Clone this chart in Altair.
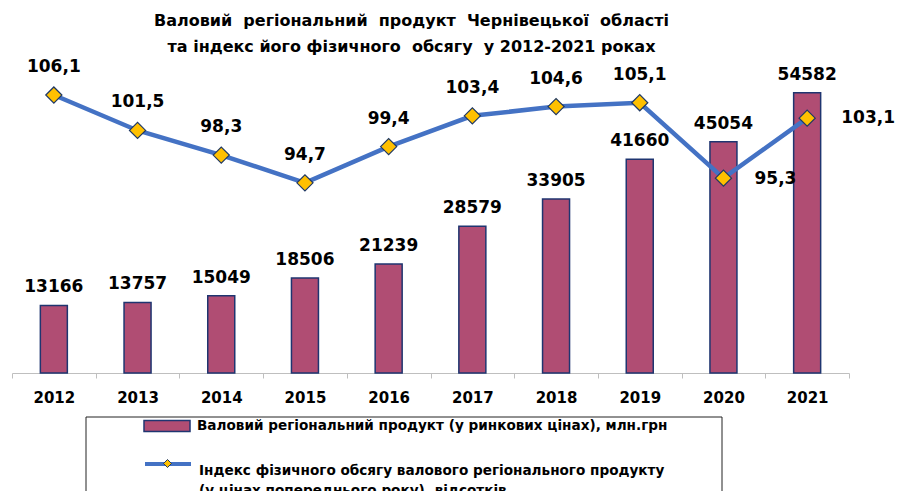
import altair as alt
import pandas as pd

years = ["2012", "2013", "2014", "2015", "2016", "2017", "2018", "2019", "2020", "2021"]
grp = [13166, 13757, 15049, 18506, 21239, 28579, 33905, 41660, 45054, 54582]
index_vals = [106.1, 101.5, 98.3, 94.7, 99.4, 103.4, 104.6, 105.1, 95.3, 103.1]

bar_name = "Валовий регіональний продукт (у ринкових цінах), млн.грн"
line_name_1 = "Індекс фізичного обсягу валового регіонального продукту"
line_name_2 = "(у цінах попереднього року), відсотків"
title_lines = [
    "Валовий\u00a0 регіональний\u00a0 продукт\u00a0 Чернівецької\u00a0 області",
    "та індекс його фізичного\u00a0 обсягу\u00a0 у 2012-2021 роках",
]

FONT = "DejaVu Sans"
BAR_FILL = "#B04D73"
BAR_STROKE = "#1F3570"
LINE_COLOR = "#4472C4"
DIAMOND_FILL = "#FFC000"
DIAMOND_STROKE = "#1F3864"

df = pd.DataFrame({"year": years, "grp": grp, "idx": index_vals})
df["grp_label"] = df["grp"].astype(str)
df["idx_label"] = df["idx"].map(lambda v: f"{v:.1f}".replace(".", ","))
df["bar_series"] = bar_name
df["line_series"] = line_name_1

x = alt.X(
    "year:N",
    title=None,
    scale=alt.Scale(paddingInner=0, paddingOuter=0),
    axis=alt.Axis(
        labelAngle=0,
        tickBand="extent",
        domainColor="#BFBFBF",
        tickColor="#BFBFBF",
        tickSize=5,
        labelFont=FONT,
        labelFontSize=15,
        labelFontWeight="bold",
        labelColor="black",
        labelPadding=12,
    ),
)
y_bar = alt.Y("grp:Q", scale=alt.Scale(domain=[0, 60000], nice=False, zero=True), axis=None)
y_line = alt.Y("idx:Q", scale=alt.Scale(domain=[70, 110], nice=False, zero=False), axis=None)

base = alt.Chart(df)

bars = base.mark_bar(size=27, stroke=BAR_STROKE, strokeWidth=1.5).encode(
    x=x,
    y=y_bar,
    color=alt.Color(
        "bar_series:N",
        scale=alt.Scale(range=[BAR_FILL]),
        legend=alt.Legend(
            orient="none", legendX=131, legendY=337, title=None,
            symbolType="M-1,-0.24H1V0.24H-1Z", symbolSize=2116,
            symbolStrokeColor=BAR_STROKE, symbolStrokeWidth=1.5,
            labelFont=FONT, labelFontSize=13.6, labelFontWeight="bold",
            labelColor="black", labelOffset=6, labelLimit=0, padding=0,
        ),
    ),
)

bar_text = base.mark_text(
    dy=-13, baseline="alphabetic", font=FONT, fontSize=17, fontWeight="bold", color="black"
).encode(x=x, y=y_bar, text="grp_label:N")

line = base.mark_line(strokeWidth=4.5).encode(
    x=x,
    y=y_line,
    color=alt.Color(
        "line_series:N",
        scale=alt.Scale(range=[LINE_COLOR]),
        legend=alt.Legend(
            orient="none", legendX=131, legendY=374, title=None,
            symbolType="stroke", symbolSize=2116, symbolStrokeWidth=4,
            labelFont=FONT, labelFontSize=13.6, labelFontWeight="bold",
            labelColor="black", labelOffset=6, labelLimit=0, padding=0,
            labelBaseline="top",
            labelExpr=f"['{line_name_1}', '{line_name_2}']",
        ),
    ),
)

points = base.mark_point(
    shape="diamond", filled=True, size=260, stroke=DIAMOND_STROKE, strokeWidth=1.2, opacity=1
).encode(
    x=x,
    y=y_line,
    fill=alt.Fill(
        "line_series:N",
        scale=alt.Scale(range=[DIAMOND_FILL]),
        legend=alt.Legend(
            orient="none", legendX=150.5, legendY=393.5, title=None,
            symbolType="diamond", symbolSize=64,
            symbolStrokeColor=DIAMOND_STROKE, symbolStrokeWidth=1,
            labelExpr="''", padding=0, zindex=2,
        ),
    ),
)

text_style = dict(baseline="alphabetic", font=FONT, fontSize=17, fontWeight="bold", color="black")
line_text_above = base.transform_filter(
    "datum.year != '2020' && datum.year != '2021'"
).mark_text(dy=-23, **text_style).encode(x=x, y=y_line, text="idx_label:N")
line_text_2020 = base.transform_filter("datum.year == '2020'").mark_text(
    dx=52, dy=6, **text_style
).encode(x=x, y=y_line, text="idx_label:N")
line_text_2021 = base.transform_filter("datum.year == '2021'").mark_text(
    dx=61, dy=5, **text_style
).encode(x=x, y=y_line, text="idx_label:N")

frame = alt.Chart(pd.DataFrame({"k": [0]})).mark_rect(
    fill="transparent", stroke="#222222", strokeWidth=1
).encode(x=alt.value(74), x2=alt.value(710), y=alt.value(352), y2=alt.value(470))

chart = (
    alt.layer(
        bars, bar_text, line, points, line_text_above, line_text_2020, line_text_2021, frame
    )
    .resolve_scale(y="independent", color="independent", fill="independent")
    .resolve_legend(color="independent", fill="independent")
    .properties(
        width=837,
        height=308,
        padding={"left": 4, "top": 57, "right": 46, "bottom": 118},
        autosize=alt.AutoSizeParams(type="none"),
        title=alt.TitleParams(
            text=title_lines,
            font=FONT,
            fontSize=16,
            fontWeight="bold",
            color="black",
            anchor="middle",
            dx=-19,
            offset=3,
            lineHeight=26,
        ),
    )
    .configure(style={"guide-label": {"lineHeight": 20}})
    .configure_view(stroke=None)
)

chart.save("out.html", embed_options={"renderer": "svg", "actions": False})
